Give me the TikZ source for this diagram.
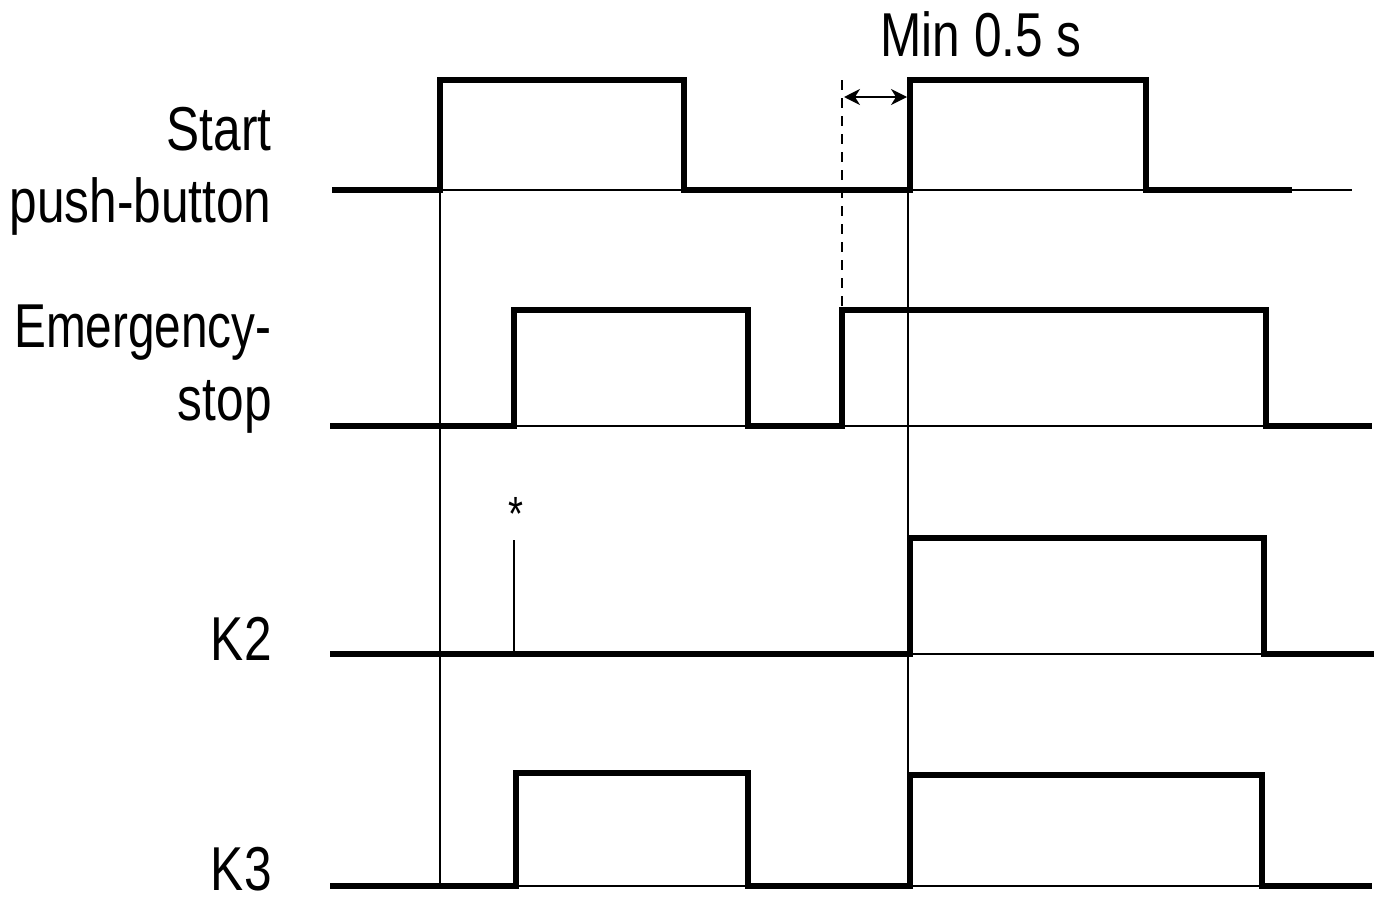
\documentclass[tikz,border=0pt]{standalone}
\usepackage{fontspec}
\setmainfont{Liberation Sans}[FakeStretch=0.8]
\newfontfamily\narrowfont{Liberation Sans}[FakeStretch=0.77]
\usetikzlibrary{arrows.meta}
\begin{document}
\begin{tikzpicture}[x=0.5pt,y=-0.5pt,
  sig/.style={line width=3pt,line join=miter,line cap=butt},
  thin/.style={line width=0.7pt},
  lbl/.style={anchor=base east,inner sep=0pt,font=\fontsize{31}{36}\selectfont},
  dim/.style={line width=0.8pt,{Stealth[length=8pt,width=8pt,inset=2.5pt]}-{Stealth[length=8pt,width=8pt,inset=2.5pt]}}]
\useasboundingbox (0,0) rectangle (1376,900);
% labels
\node[lbl] (l1) at (272,150) {Start};
\node[lbl] (l2) at (272,222) {push-button};
\node[lbl,font=\narrowfont\fontsize{31}{36}\selectfont] (l3) at (272,347) {Emergency-};
\node[lbl] (l4) at (272,420) {stop};
\node[lbl] (l5) at (272,660) {K2};
\node[lbl] (l6) at (272,890) {K3};
\node[anchor=base west,inner sep=0pt,font=\fontsize{31}{36}\selectfont] (min) at (880,56) {Min 0.5 s};
\node[inner sep=0pt,font=\fontsize{24}{24}\selectfont] (star) at (516,514) {*};
% thin baselines
\draw[thin] (332,190) -- (1352,190);
\draw[thin] (330,426) -- (1372,426);
\draw[thin] (330,654) -- (1374,654);
\draw[thin] (330,886) -- (1372,886);
% vertical references
\draw[thin] (440,190) -- (440,886);
\draw[thin] (908,190) -- (908,886);
\draw[line width=1pt,dash pattern=on 5pt off 4pt] (842,80) -- (842,310);
\draw[thin] (514,540) -- (514,654);
% dimension arrow
\coordinate (a1) at (844,97);
\coordinate (a2) at (907,97);
\draw[dim] (a1) -- (a2);
% signals
\draw[sig] (332,190) -- (440,190) -- (440,80) -- (684,80) -- (684,190) -- (910,190) -- (910,80) -- (1146,80) -- (1146,190) -- (1292,190);
\draw[sig] (330,426) -- (514,426) -- (514,310) -- (748,310) -- (748,426) -- (842,426) -- (842,310) -- (1266,310) -- (1266,426) -- (1372,426);
\draw[sig] (330,654) -- (910,654) -- (910,538) -- (1264,538) -- (1264,654) -- (1374,654);
\draw[sig] (330,886) -- (516,886) -- (516,773) -- (748,773) -- (748,886) -- (910,886) -- (910,775) -- (1262,775) -- (1262,886) -- (1372,886);
\end{tikzpicture}
\end{document}
